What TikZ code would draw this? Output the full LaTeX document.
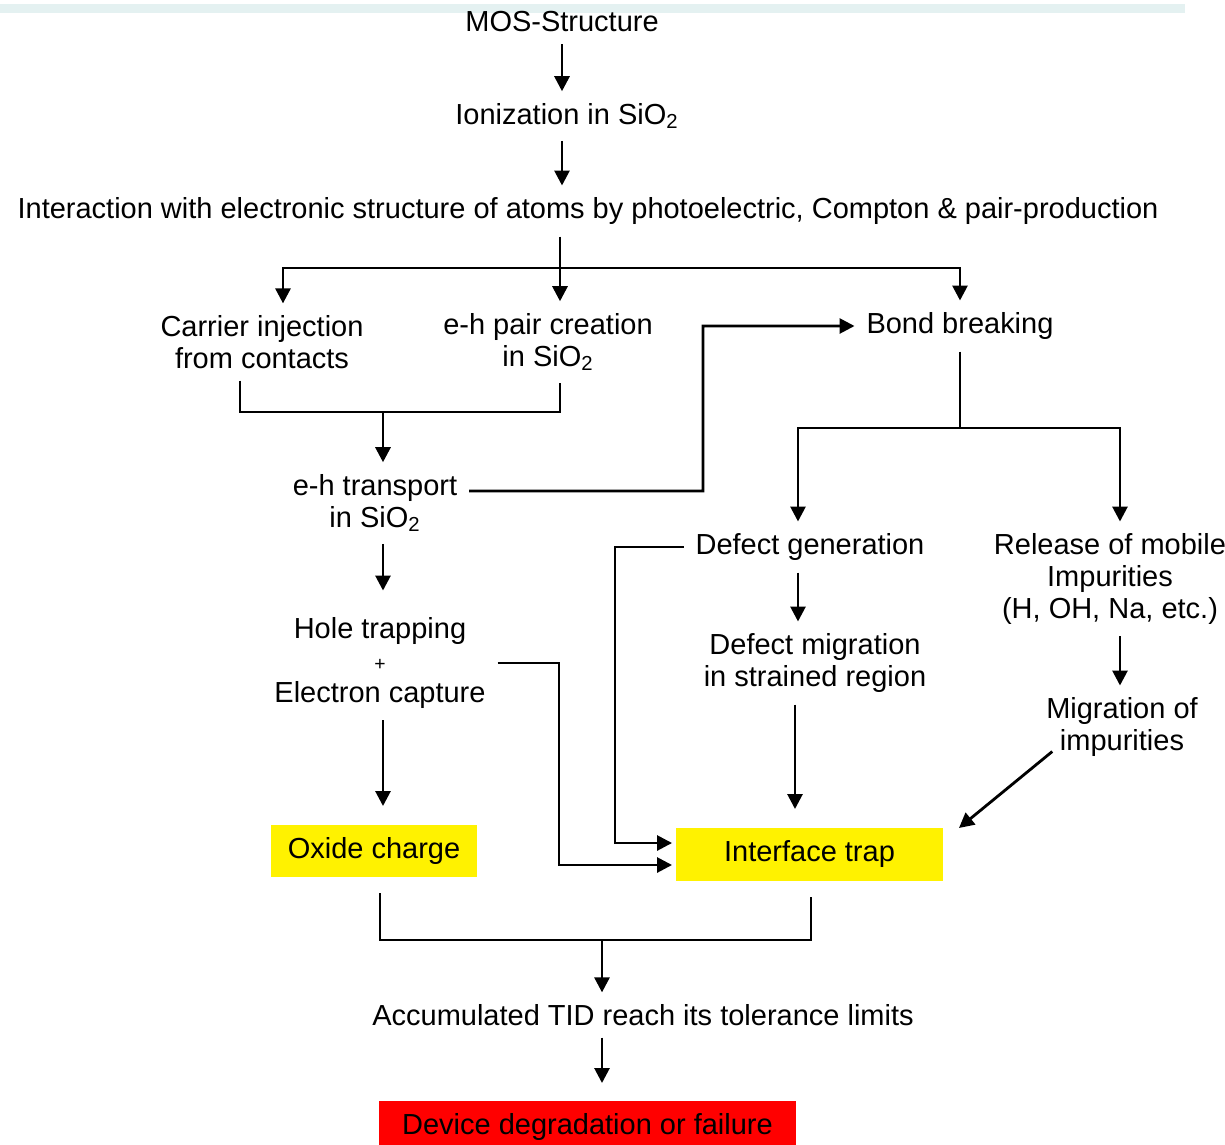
\documentclass[tikz,border=0pt]{standalone}
\usepackage{fontspec}
\setmainfont{Liberation Sans}
\usetikzlibrary{arrows.meta, positioning}
\definecolor{bandcol}{HTML}{E4F1F1}

\begin{document}
\begin{tikzpicture}[x=0.02cm, y=-0.02cm, line width=1.6pt,
    font=\fontsize{16.5}{18.2}\selectfont,
    every node/.style={align=center, inner sep=0pt, outer sep=0.24cm},
    >={Triangle[length=0.3cm, width=0.3cm]},
    yellowfill/.style={fill=yellow, outer sep=0.08cm},
    redfill/.style={fill=red, outer sep=0.08cm}]
    \useasboundingbox (0,0) rectangle (1225,1144);
    \fill[bandcol] (0,4) rectangle (1185,13);

          \node[] (1) at (562,22) {MOS-Structure};
          \node[] (2) at (567,116) {Ionization in SiO\textsubscript{2}};
          \node[] (3) at (588,211) {Interaction with electronic structure of atoms by photoelectric, Compton \& pair-production};
          \node[] (4) at (262,342) {Carrier injection\\from contacts};
          \node[] (5) at (548,342) {e-h pair creation\\in SiO\textsubscript{2}};
          \node[] (6) at (960,326) {Bond breaking};
          \node[] (7) at (375,503) {e-h transport\\in SiO\textsubscript{2}};
          \node[] (8) at (380,663) {Hole trapping\\{\fontsize{11}{18.2}\selectfont +}\\Electron capture};
          \node[] (9) at (810,547) {Defect generation};
          \node[] (10) at (1110,579) {Release of mobile\\Impurities\\(H, OH, Na, etc.)};
          \node[] (11) at (815,663) {Defect migration\\in strained region};
          \node[] (12) at (1122,727) {Migration of\\impurities};
          \node[yellowfill, minimum width=4.12cm, minimum height=1.04cm] (13) at (374,851) {Oxide charge};
          \node[yellowfill, minimum width=5.34cm, minimum height=1.06cm] (15) at (809.5,854.5) {Interface trap};
          \node[] (14) at (643,1015) {Accumulated TID reach its tolerance limits};
          \node[redfill, minimum width=8.34cm, minimum height=1.04cm] (16) at (587.5,1127) {Device degradation or failure};

          \coordinate (c1) at (560,268);
          \coordinate (c2) at (383,412);
          \coordinate (c3) at (703,491);
          \coordinate (c4) at (960,428);
          \coordinate (c5) at (615,700);
          \coordinate (c6) at (559,760);
          \coordinate (c7) at (602,940);

          \draw[->] (1.south) -- (1.south |- 2.north);
          \draw[->] (2.south -| 1.south) -- (1.south |- 3.north);
          \draw (3.south -| c1) -- (c1);
          \draw[->] (c1) -| ([xshift=0.42cm]4.north);
          \draw[->] (c1) -- (c1 |- 5.north);
          \draw[->] (c1) -| (6.north);

          \draw ([xshift=-0.44cm]4.south) |- ([xshift=0.24cm]5.south |- c2) -- ([xshift=0.24cm]5.south);
          \draw[->] (c2) -- (c2 |- 7.north);
          \draw[->] ([yshift=0.24cm]7.east) -- (c3) |- (6.west);

          \draw (6.south) -- (c4);
          \draw[->] (c4) -| ([xshift=-0.24cm]9.north);
          \draw[->] (c4) -| ([xshift=0.2cm]10.north);
          \draw[->] ([xshift=-0.24cm]9.south) -- ([xshift=-0.24cm]9.south |- 11.north);
          \draw[->, shorten >=0.3cm] ([xshift=-0.4cm]11.south) -- ([xshift=-0.4cm]11.south |- 15.north);
          \draw[->] ([xshift=0.2cm]10.south) -- ([xshift=0.2cm]10.south |- 12.north);
          \draw[->] ([shift={(0.36cm,0.34cm)}]12.south west) -- ([shift={(0.24cm,-0.08cm)}]15.north east);

          \draw[->] (9.west) -| (c5) |- ([yshift=0.23cm]15.west);
          \draw[->] (8.east) -| (c6) |- ([yshift=-0.21cm]15.west);

          \draw[->, shorten >=0.3cm] ([xshift=0.16cm]7.south) -- ([xshift=0.16cm]7.south |- 8.north);
          \draw[->, shorten >=0.3cm] ([xshift=0.06cm]8.south) -- ([xshift=0.06cm]8.south |- 13.north);

          \draw[shorten <=0.24cm] ([xshift=0.12cm]13.south) |- (c7);
          \draw[shorten <=0.24cm] ([xshift=0.03cm]15.south) |- (c7);
          \draw[->] (c7) -- (c7 |- 14.north);
          \draw[->, shorten >=0.28cm] (14.south -| c7) -- (c7 |- 16.north);
    \end{tikzpicture}
\end{document}
